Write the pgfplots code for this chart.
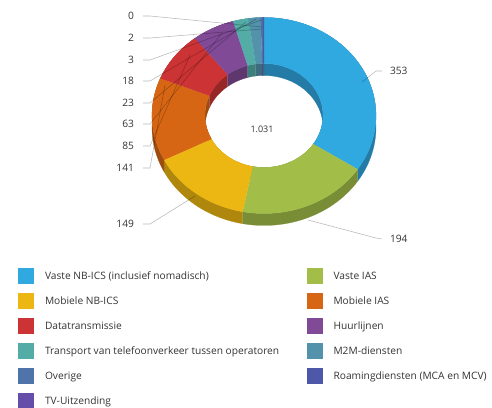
\documentclass[border=0pt]{standalone}
\usepackage{fontspec}
\setmainfont{Open Sans}
\usepackage{pgfplots}
\pgfplotsset{compat=1.18}

\definecolor{cA}{HTML}{30A8E0}
\definecolor{cB}{HTML}{A2BE48}
\definecolor{cC}{HTML}{ECB712}
\definecolor{cD}{HTML}{D66614}
\definecolor{cE}{HTML}{CC3334}
\definecolor{cF}{HTML}{804A96}
\definecolor{cG}{HTML}{53ACA5}
\definecolor{cH}{HTML}{5292AA}
\definecolor{cI}{HTML}{4E74AA}
\definecolor{cJ}{HTML}{4E58A8}
\definecolor{cK}{HTML}{644EAA}
\definecolor{txt}{HTML}{333333}

% slice values
\def\vA{353}\def\vB{194}\def\vC{149}\def\vD{141}\def\vE{85}\def\vF{63}
\def\vG{23}\def\vH{18}\def\vI{3}\def\vJ{2}\def\vK{0}
\pgfmathsetmacro\tot{\vA+\vB+\vC+\vD+\vE+\vF+\vG+\vH+\vI+\vJ+\vK}
\pgfmathsetmacro\aA{0}
\pgfmathsetmacro\aB{\aA+\vA/\tot*360}
\pgfmathsetmacro\aC{\aB+\vB/\tot*360}
\pgfmathsetmacro\aD{\aC+\vC/\tot*360}
\pgfmathsetmacro\aE{\aD+\vD/\tot*360}
\pgfmathsetmacro\aF{\aE+\vE/\tot*360}
\pgfmathsetmacro\aG{\aF+\vF/\tot*360}
\pgfmathsetmacro\aH{\aG+\vG/\tot*360}
\pgfmathsetmacro\aI{\aH+\vH/\tot*360}
\pgfmathsetmacro\aJ{\aI+\vI/\tot*360}
\pgfmathsetmacro\aK{\aJ+\vJ/\tot*360}

% band: #1 opts, #2 t1, #3 t2, A=(#4,#5,drop #6) forward, B=(#7,#8,drop #9) backward
\newcommand{\band}[9]{%
\addplot[#1, forget plot, samples at={0,1,...,40,100,101,...,140}]
 ({ifthenelse(x<70, 264+#4*sin(#2+(#3-#2)*x/40), 264+#7*sin(#3-(#3-#2)*(x-100)/40))},
  {ifthenelse(x<70, 291.5+#5*cos(#2+(#3-#2)*x/40)-#6, 291.5+#8*cos(#3-(#3-#2)*(x-100)/40)-#9)});
}
\newcommand{\walls}[3]{%
 \band{fill=#3!74!black, draw=#3!74!black, line width=0.2pt}{#1}{#2}{112}{98}{0}{112}{98}{12}%
 \band{fill=#3!74!black, draw=#3!74!black, line width=0.2pt}{#1}{#2}{59}{52}{0}{59}{52}{12}%
}
\newcommand{\topface}[3]{%
 \band{fill=#3, draw=#3, line width=0.2pt}{#1}{#2}{112}{98}{0}{59}{52}{0}%
}

\begin{document}%
\begin{tikzpicture}[font=\fontsize{10.2}{12}\selectfont]
\begin{axis}[scale only axis, width=492pt, height=407pt,
  xmin=0, xmax=492, ymin=0, ymax=407, hide axis, clip=false]
\coordinate (BL) at (axis cs:0,0);
\coordinate (TR) at (axis cs:492,407);
% side walls
\walls{\aA}{\aB}{cA}
\walls{\aB}{\aC}{cB}
\walls{\aC}{\aD}{cC}
\walls{\aD}{\aE}{cD}
\walls{\aE}{\aF}{cE}
\walls{\aF}{\aG}{cF}
\walls{\aG}{\aH}{cG}
\walls{\aH}{\aI}{cH}
\walls{\aI}{\aJ}{cI}
\walls{\aJ}{\aK}{cJ}
% top faces
\topface{\aA}{\aB}{cA}
\topface{\aB}{\aC}{cB}
\topface{\aC}{\aD}{cC}
\topface{\aD}{\aE}{cD}
\topface{\aE}{\aF}{cE}
\topface{\aF}{\aG}{cF}
\topface{\aG}{\aH}{cG}
\topface{\aH}{\aI}{cH}
\topface{\aI}{\aJ}{cI}
\topface{\aJ}{\aK}{cJ}
% connectors
\pgfplotsset{conn/.style={black, opacity=0.28, line width=0.55pt, forget plot}}
\addplot[conn] coordinates {(143,391) (150,391) (262,380)};
\addplot[conn] coordinates {(143,369) (150,369) (262,378)};
\addplot[conn] coordinates {(143,347) (150,347) (261,387)};
\addplot[conn] coordinates {(143,326) (150,326) (256,388)};
\addplot[conn] coordinates {(143,304) (150,304) (246,385)};
\addplot[conn] coordinates {(143,283) (150,283) (222,374)};
\addplot[conn] coordinates {(143,261) (150,261) (190,352)};
\addplot[conn] coordinates {(143,239) (150,239) (165,322)};
\addplot[conn] coordinates {(143,183) (150,183) (195,211)};
\addplot[conn] coordinates {(382,336) (376,336) (362,325)};
\addplot[conn] coordinates {(382,168) (376,169) (308,187)};
% data labels
\node[anchor=east, text=txt] at (axis cs:137.5,391) {0};
\node[anchor=east, text=txt] at (axis cs:137.5,369) {2};
\node[anchor=east, text=txt] at (axis cs:137.5,347) {3};
\node[anchor=east, text=txt] at (axis cs:137.5,326) {18};
\node[anchor=east, text=txt] at (axis cs:137.5,304) {23};
\node[anchor=east, text=txt] at (axis cs:137.5,283) {63};
\node[anchor=east, text=txt] at (axis cs:137.5,261) {85};
\node[anchor=east, text=txt] at (axis cs:137.5,239) {141};
\node[anchor=east, text=txt] at (axis cs:137.5,183) {149};
\node[anchor=west, text=txt] at (axis cs:386.5,336) {353};
\node[anchor=west, text=txt] at (axis cs:386.5,168) {194};
\node[text=txt, font=\fontsize{9}{10}\selectfont] at (axis cs:262,278) {1.031};
% legend swatches
\pgfplotsset{sw/.style={only marks, mark=square*, mark size=7.5pt, forget plot}}
\addplot[sw, mark options={fill=cA, draw=cA, rounded corners=2.5pt}] coordinates {(25.5,131.5)};
\addplot[sw, mark options={fill=cB, draw=cB, rounded corners=2.5pt}] coordinates {(314.5,131.5)};
\addplot[sw, mark options={fill=cC, draw=cC, rounded corners=2.5pt}] coordinates {(25.5,106.4)};
\addplot[sw, mark options={fill=cD, draw=cD, rounded corners=2.5pt}] coordinates {(314.5,106.4)};
\addplot[sw, mark options={fill=cE, draw=cE, rounded corners=2.5pt}] coordinates {(25.5,81.3)};
\addplot[sw, mark options={fill=cF, draw=cF, rounded corners=2.5pt}] coordinates {(314.5,81.3)};
\addplot[sw, mark options={fill=cG, draw=cG, rounded corners=2.5pt}] coordinates {(25.5,56.2)};
\addplot[sw, mark options={fill=cH, draw=cH, rounded corners=2.5pt}] coordinates {(314.5,56.2)};
\addplot[sw, mark options={fill=cI, draw=cI, rounded corners=2.5pt}] coordinates {(25.5,31.1)};
\addplot[sw, mark options={fill=cJ, draw=cJ, rounded corners=2.5pt}] coordinates {(314.5,31.1)};
\addplot[sw, mark options={fill=cK, draw=cK, rounded corners=2.5pt}] coordinates {(25.5,6.0)};
% legend texts
\node[anchor=base west, text=txt] at (axis cs:41.5,127.8) {Vaste NB-ICS (inclusief nomadisch)};
\node[anchor=base west, text=txt] at (axis cs:330,127.8) {Vaste IAS};
\node[anchor=base west, text=txt] at (axis cs:41.5,102.7) {Mobiele NB-ICS};
\node[anchor=base west, text=txt] at (axis cs:330,102.7) {Mobiele IAS};
\node[anchor=base west, text=txt] at (axis cs:41.5,77.6) {Datatransmissie};
\node[anchor=base west, text=txt] at (axis cs:330,77.6) {Huurlijnen};
\node[anchor=base west, text=txt] at (axis cs:41.5,52.5) {Transport van telefoonverkeer tussen operatoren};
\node[anchor=base west, text=txt] at (axis cs:330,52.5) {M2M-diensten};
\node[anchor=base west, text=txt] at (axis cs:41.5,27.4) {Overige};
\node[anchor=base west, text=txt] at (axis cs:330,27.4) {Roamingdiensten (MCA en MCV)};
\node[anchor=base west, text=txt] at (axis cs:41.5,2.3) {TV-Uitzending};
\end{axis}
\pgfresetboundingbox
\useasboundingbox (BL) rectangle (TR);
\end{tikzpicture}%
\end{document}
